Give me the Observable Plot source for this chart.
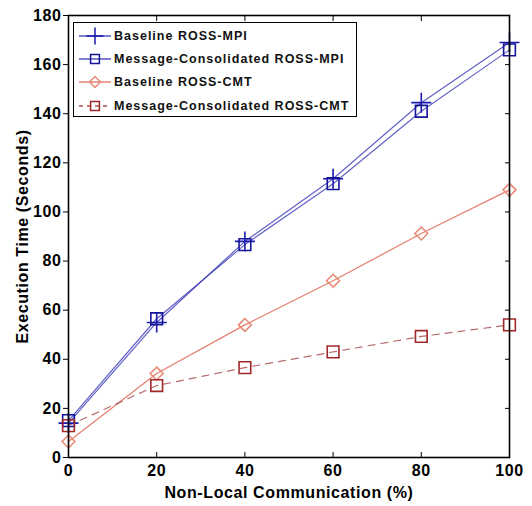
<!DOCTYPE html>
<html>
<head>
<meta charset="utf-8">
<script src="https://cdn.jsdelivr.net/npm/d3@7"></script>
<script src="https://cdn.jsdelivr.net/npm/@observablehq/plot@0.6"></script>
<style>
  html, body { margin: 0; padding: 0; background: #fff; }
  #wrap { position: relative; width: 532px; height: 506px; font-family: "Liberation Sans", Arial, sans-serif; }
  #legend { position: absolute; left: 73px; top: 22px; width: 282px; height: 93px; border: 1.5px solid #000; background: #fff; }
  .row { position: absolute; left: 0; height: 20px; display: flex; align-items: center; }
  .row span { font-weight: bold; font-size: 12.5px; color: #111; letter-spacing: 1px; margin-left: 2px; }
  svg text { letter-spacing: 0.6px; }
</style>
</head>
<body>
<div id="wrap"></div>
<script>
// ---- data ----
const xValues = [0, 20, 40, 60, 80, 100];
const baselineMPI = [14, 55, 88, 113.5, 144.5, 169];
const consolidatedMPI = [15, 56.5, 86.7, 111.5, 141, 166];
const baselineCMT = [6.5, 34.2, 54, 72, 91.2, 109];
const consolidatedCMT = [13, 29.3, 36.6, 43, 49.3, 54];
const seriesNames = ["Baseline ROSS-MPI", "Message-Consolidated ROSS-MPI", "Baseline ROSS-CMT", "Message-Consolidated ROSS-CMT"];
const xTicks = [0, 20, 40, 60, 80, 100];
const yTicks = [0, 20, 40, 60, 80, 100, 120, 140, 160, 180];
const xLabel = "Non-Local Communication (%)";
const yLabel = "Execution Time (Seconds)";

// ---- styles ----
const styles = [
  {line: "#3a3ab8", lineOpacity: 0.8, dash: null, symbol: "plus", mark: "#1a1ab0", r: 6.5},
  {line: "#3a3ab8", lineOpacity: 0.8, dash: null, symbol: "square", mark: "#14149a", r: 6.6},
  {line: "#e0705c", lineOpacity: 0.9, dash: null, symbol: "diamond2", mark: "#e88a78", r: 5.8},
  {line: "#a85050", lineOpacity: 0.85, dash: "7,6", symbol: "square", mark: "#a02828", r: 6.6}
];
const allSeries = [baselineMPI, consolidatedMPI, baselineCMT, consolidatedCMT];
const table = allSeries.map((vals, i) => xValues.map((x, j) => ({x, y: vals[j], s: i})));

const marks = [];
table.forEach((d, i) => {
  const st = styles[i];
  marks.push(Plot.line(d, {x: "x", y: "y", stroke: st.line, strokeOpacity: st.lineOpacity, strokeWidth: 1.2, strokeDasharray: st.dash}));
});
table.forEach((d, i) => {
  const st = styles[i];
  marks.push(Plot.dot(d, {x: "x", y: "y", symbol: () => st.symbol, r: st.r, stroke: st.mark, strokeWidth: 1.6, fill: "none"}));
});

const chart = Plot.plot({
  width: 532,
  height: 506,
  marginTop: 15,
  marginRight: 23,
  marginBottom: 49,
  marginLeft: 68,
  style: {fontFamily: "'Liberation Sans', Arial, sans-serif", fontWeight: "bold", fontSize: "16px", background: "#fff", color: "#000", overflow: "visible"},
  x: {domain: [0, 100]},
  y: {domain: [0, 180]},
  symbol: {type: "identity"},
  marks: [
    ...marks,
    Plot.frame({stroke: "#000", strokeWidth: 1.6}),
    Plot.axisY(yTicks, {anchor: "left", tickSize: 5, tickPadding: 2, fontSize: 16, fontWeight: "bold", label: yLabel, labelAnchor: "center", labelOffset: 52, labelArrow: "none"}),
    Plot.axisY(yTicks, {anchor: "right", tickSize: -5, tickFormat: () => "", label: null}),
    Plot.axisX(xTicks, {anchor: "bottom", tickSize: 0, tickPadding: 7, fontSize: 16, fontWeight: "bold", label: xLabel, labelAnchor: "center", labelOffset: 40, labelArrow: "none"}),
    Plot.axisX(xTicks, {anchor: "bottom", tickSize: -5, tickFormat: () => "", label: null}),
    Plot.axisX(xTicks, {anchor: "top", tickSize: -5, tickFormat: () => "", label: null})
  ]
});

const wrap = document.getElementById("wrap");
wrap.appendChild(chart);

// ---- legend ----
const legend = document.createElement("div");
legend.id = "legend";
wrap.appendChild(legend);
const rowTops = [3, 26, 49, 73];
seriesNames.forEach((name, i) => {
  const st = styles[i];
  const row = document.createElement("div");
  row.className = "row";
  row.style.top = rowTops[i] + "px";
  row.style.left = "4px";
  const svg = d3.create("svg").attr("width", 34).attr("height", 20);
  svg.append("line").attr("x1", 1).attr("x2", 33).attr("y1", 10).attr("y2", 10)
    .attr("stroke", st.line).attr("stroke-width", 1.3).attr("stroke-dasharray", st.dash ? "4,4" : null);
  const symType = st.symbol === "plus" ? d3.symbolPlus : st.symbol === "diamond2" ? d3.symbolDiamond2 : d3.symbolSquare2;
  const size = Math.PI * (st.r * 0.85) ** 2;
  svg.append("path").attr("transform", "translate(17,10)").attr("d", d3.symbol(symType, size)())
    .attr("fill", "none").attr("stroke", st.mark).attr("stroke-width", 1.5);
  row.appendChild(svg.node());
  const sp = document.createElement("span");
  sp.textContent = name;
  row.appendChild(sp);
  legend.appendChild(row);
});
</script>
</body>
</html>
